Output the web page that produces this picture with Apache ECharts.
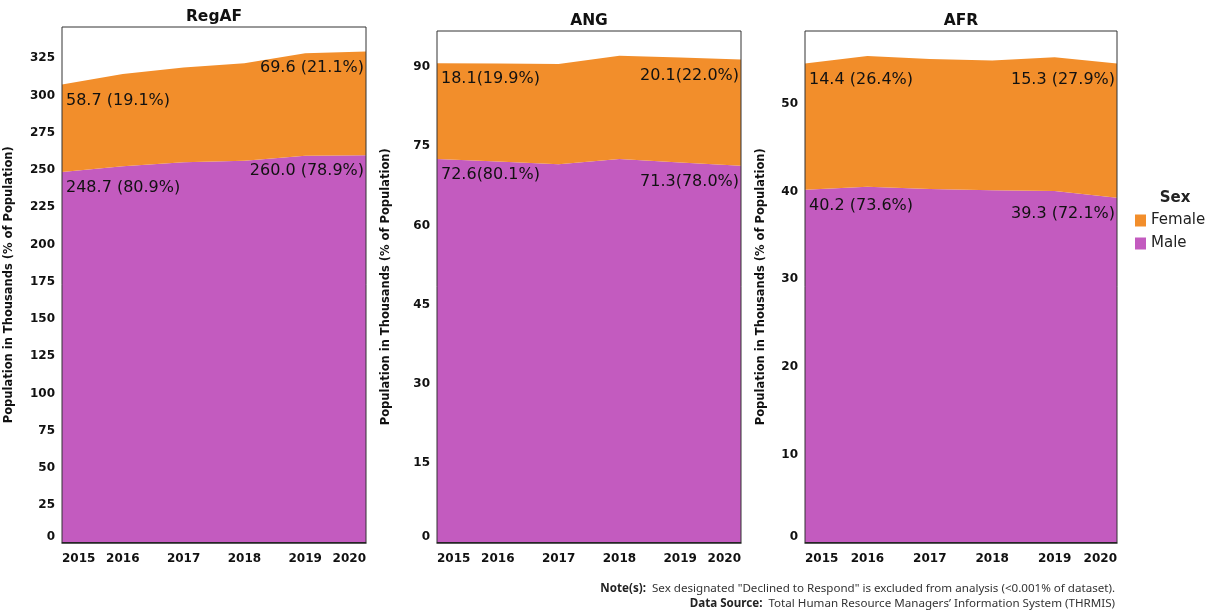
<!DOCTYPE html>
<html>
<head>
<meta charset="utf-8">
<title>Population by Sex</title>
<script src="https://cdn.jsdelivr.net/npm/echarts@6/dist/echarts.min.js"></script>
<style>
html, body { margin: 0; padding: 0; background: #fff; }
#main { width: 1212px; height: 611px; }
</style>
</head>
<body>
<div id="main"></div>
<script>
var years = ['2015', '2016', '2017', '2018', '2019', '2020'];
var panelNames = ['RegAF', 'ANG', 'AFR'];

// population in thousands
var regafMale = [248.7, 252.5, 255.3, 256.3, 259.6, 260.0];
var regafFemale = [58.7, 62.0, 63.6, 65.3, 68.7, 69.6];
var angMale = [72.6, 72.1, 71.6, 72.6, 71.9, 71.3];
var angFemale = [18.1, 18.55, 18.95, 19.5, 19.9, 20.1];
var afrMale = [40.2, 40.55, 40.3, 40.15, 40.05, 39.3];
var afrFemale = [14.4, 14.9, 14.8, 14.8, 15.25, 15.3];

// % of population in the labels (first year, last year)
var regafMalePct = [80.9, 78.9];
var regafFemalePct = [19.1, 21.1];
var angMalePct = [80.1, 78.0];
var angFemalePct = [19.9, 22.0];
var afrMalePct = [73.6, 72.1];
var afrFemalePct = [26.4, 27.9];

// y axis range and tick step per panel
var yMax = [346, 96.8, 58.3];
var yStep = [25, 15, 10];

var FEMALE = '#F28E2B';
var MALE = '#C35BBF';
var FONT = 'DejaVu Sans';

var chart = echarts.init(document.getElementById('main'));

// label only the first and last year
function areaData(vals, pct, sep) {
    return vals.map(function (v, i) {
        var item = { value: v };
        if (i === 0 || i === vals.length - 1) {
            var first = i === 0;
            item.label = {
                show: true,
                position: 'bottom',
                distance: 8,
                align: first ? 'left' : 'right',
                offset: [first ? 4 : -2, 0],
                formatter: v.toFixed(1) + sep + '(' + pct[first ? 0 : 1].toFixed(1) + '%)'
            };
        }
        return item;
    });
}

var panels = [
    { male: regafMale, female: regafFemale, mp: regafMalePct, fp: regafFemalePct, sep: ' ',
      left: 62, top: 27, width: 304, gap: 47 },
    { male: angMale, female: angFemale, mp: angMalePct, fp: angFemalePct, sep: '',
      left: 437, top: 31, width: 304, gap: 45 },
    { male: afrMale, female: afrFemale, mp: afrMalePct, fp: afrFemalePct, sep: ' ',
      left: 805, top: 31, width: 312, gap: 38 }
];

var grids = [], xAxes = [], yAxes = [], series = [], graphics = [];

panels.forEach(function (p, i) {
    grids.push({
        left: p.left, top: p.top, width: p.width, bottom: 68.5,
        show: true, z: 5, borderColor: '#333', borderWidth: 1,
        backgroundColor: 'transparent'
    });
    xAxes.push({
        type: 'category', gridIndex: i, data: years, boundaryGap: false,
        axisLine: { show: true, lineStyle: { color: '#222', width: 1.5 } },
        axisTick: { show: false },
        z: 6,
        axisLabel: {
            interval: 0, margin: 10, color: '#111', fontFamily: FONT,
            fontWeight: 'bold', fontSize: 12,
            alignMinLabel: 'left', alignMaxLabel: 'right'
        }
    });
    yAxes.push({
        type: 'value', gridIndex: i, min: 0, max: yMax[i], interval: yStep[i],
        axisLine: { show: false }, axisTick: { show: false }, splitLine: { show: false },
        axisLabel: {
            color: '#111', fontFamily: FONT, fontWeight: 'bold', fontSize: 12,
            margin: 7, showMaxLabel: false, verticalAlignMinLabel: 'bottom'
        },
        name: 'Population in Thousands (% of Population)',
        nameLocation: 'middle', nameGap: p.gap, nameRotate: 90,
        nameTextStyle: { color: '#111', fontFamily: FONT, fontWeight: 'bold', fontSize: 11.5 }
    });
    var common = {
        type: 'line', xAxisIndex: i, yAxisIndex: i, stack: 'p' + i,
        symbol: 'circle', symbolSize: 0, clip: false, smooth: false,
        lineStyle: { width: 0 }, areaStyle: { opacity: 1 },
        emphasis: { disabled: true }, silent: true,
        label: { color: '#111', fontFamily: FONT, fontSize: 16 }
    };
    series.push(Object.assign({}, common, {
        name: 'Male', data: areaData(p.male, p.mp, p.sep),
        itemStyle: { color: MALE }, areaStyle: { color: MALE, opacity: 1 }
    }));
    series.push(Object.assign({}, common, {
        name: 'Female', data: areaData(p.female, p.fp, p.sep),
        itemStyle: { color: FEMALE }, areaStyle: { color: FEMALE, opacity: 1 }
    }));
    // panel title
    graphics.push({
        type: 'text', x: p.left + p.width / 2, y: p.top - 10,
        style: {
            text: panelNames[i], fill: '#111', fontFamily: FONT, fontWeight: 'bold',
            fontSize: 15.5, align: 'center', verticalAlign: 'middle'
        }
    });
});

// legend title
graphics.push({
    type: 'text', x: 1175, y: 198,
    style: { text: 'Sex', fill: '#222', fontFamily: FONT, fontWeight: 'bold', fontSize: 15,
        align: 'center', verticalAlign: 'middle' }
});

// notes
var noteRich = { b: { fontWeight: 'bold', fontFamily: 'Noto Sans', fontSize: 11.6, fill: '#222' } };
graphics.push({
    type: 'text', x: 1115, y: 589,
    style: {
        text: '{b|Note(s):}  Sex designated "Declined to Respond" is excluded from analysis (<0.001% of dataset).',
        rich: noteRich,
        fill: '#333', fontFamily: 'Noto Sans', fontSize: 11.6, align: 'right', verticalAlign: 'middle'
    }
});
graphics.push({
    type: 'text', x: 1115, y: 604,
    style: {
        text: '{b|Data Source:}  Total Human Resource Managers\u2019 Information System (THRMIS)',
        rich: noteRich,
        fill: '#333', fontFamily: 'Noto Sans', fontSize: 11.6, align: 'right', verticalAlign: 'middle'
    }
});

chart.setOption({
    animation: false,
    backgroundColor: '#fff',
    grid: grids,
    xAxis: xAxes,
    yAxis: yAxes,
    series: series,
    legend: {
        data: ['Female', 'Male'], orient: 'vertical', left: 1130, top: 208,
        icon: 'rect', itemWidth: 11, itemHeight: 12, itemGap: 8,
        selectedMode: false,
        textStyle: { color: '#222', fontFamily: FONT, fontSize: 15 }
    },
    graphic: graphics
});
</script>
</body>
</html>
